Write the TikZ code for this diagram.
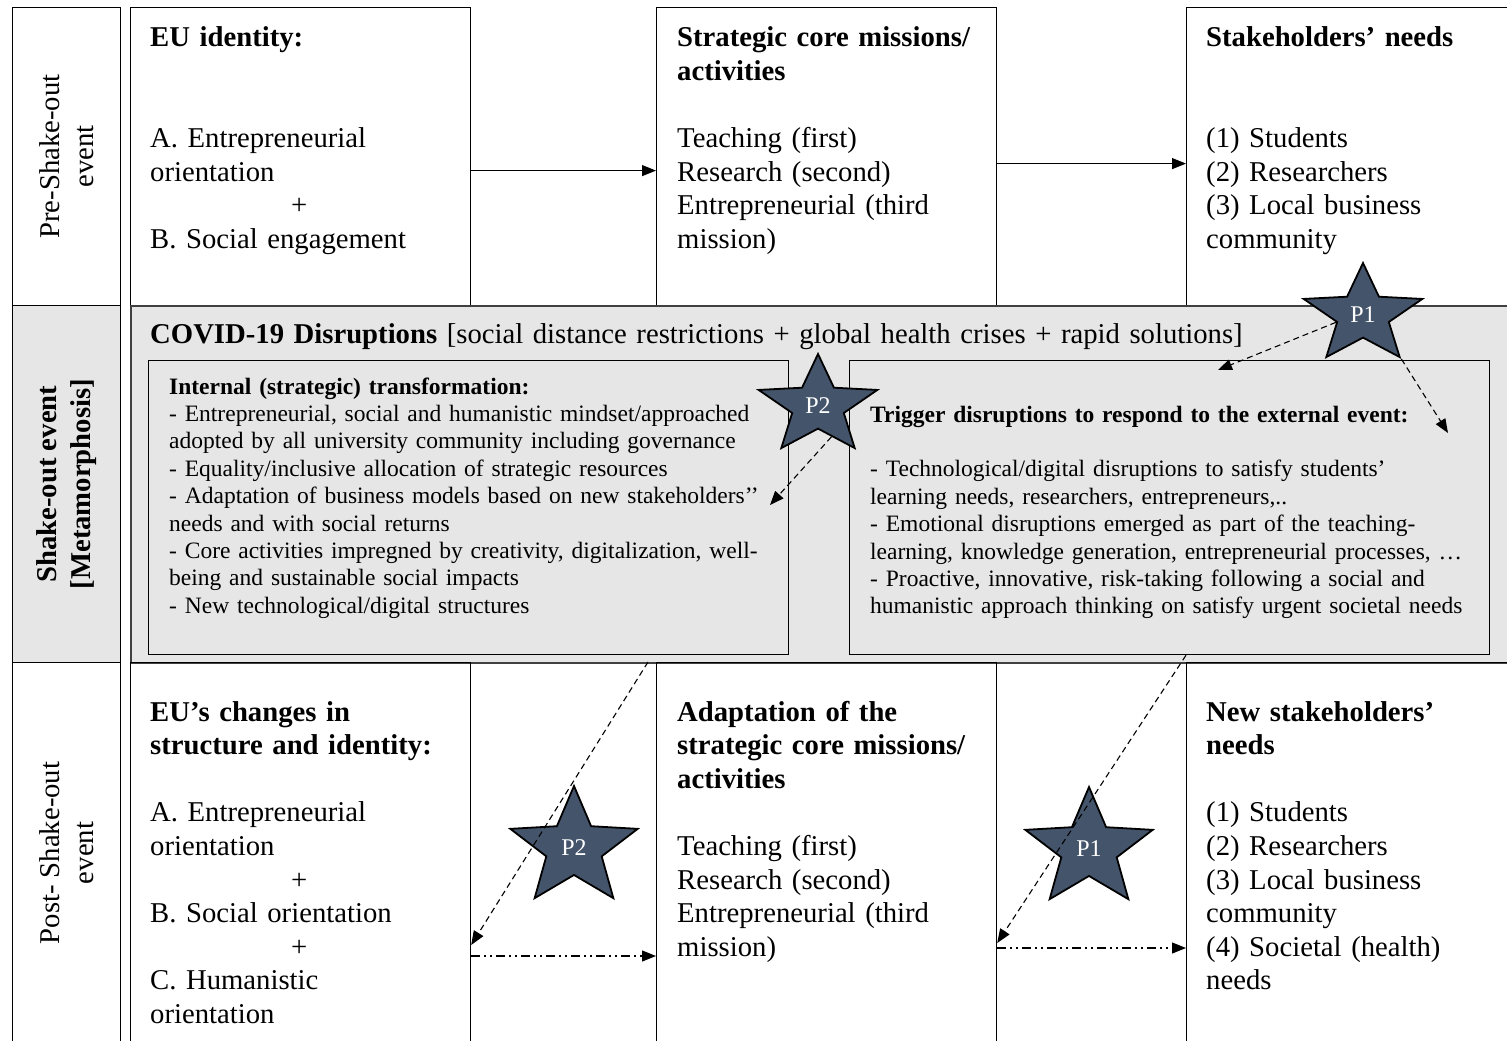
\documentclass[tikz,border=0pt]{standalone}
\usepackage{fontspec}
\setmainfont{Liberation Serif}
\usepackage{xcolor}
\usepackage{tikz}
\usetikzlibrary{arrows.meta,positioning,shapes.geometric}
\definecolor{bandgray}{HTML}{E7E6E6}
\definecolor{starblue}{HTML}{44546A}
\definecolor{rimgray}{HTML}{404040}
\newcommand\bodysize{\fontsize{28.7}{33.6}\selectfont}
\newcommand\smallsize{\fontsize{23.5}{27.4}\selectfont}

\begin{document}
\begin{tikzpicture}[
 x=1pt,y=-1pt,
 cell/.style={draw=black,line width=1.2pt,anchor=north west,inner sep=0pt},
 band/.style={draw=rimgray,line width=1.6pt,fill=bandgray,anchor=north west,inner sep=0pt},
 txt/.style={anchor=base west,align=left,text width=330pt,inner sep=0pt,font=\bodysize},
 smalltxt/.style={anchor=base west,align=left,text width=620pt,inner sep=0pt,font=\smallsize},
 side/.style={rotate=90,align=center,inner sep=0pt,font=\bodysize},
 pstar/.style={star,star points=5,star point ratio=2.3,draw=black,line width=1.8pt,fill=starblue,inner sep=0pt,transform shape},
 plabel/.style={text=white,inner sep=0pt,font=\fontsize{24}{26}\selectfont},
 flow/.style={line width=1.1pt,-{Triangle[length=14pt,width=11pt]}},
 dashflow/.style={flow,dash pattern=on 6pt off 4pt},
 dotflow/.style={flow,dash pattern=on 9pt off 4pt on 2pt off 4pt on 2pt off 4pt}
]
\useasboundingbox (0,0) rectangle (1507,1041);
\fill[white] (0,0) rectangle (1507,1041);
\clip (0,0) rectangle (1507,1041);

\node[cell,minimum width=108pt,minimum height=298pt] (prebox) at (12,7) {};
\node[cell,fill=bandgray,minimum width=108pt,minimum height=357pt] (shakebox) at (12,305) {};
\node[cell,minimum width=108pt,minimum height=400pt] (postbox) at (12,662) {};
\node[side] (prelab) at (prebox) {Pre-Shake-out\\event};
\node[side,font=\bodysize\bfseries] (shakelab) at (shakebox) {Shake-out event\\{[}Metamorphosis{]}};
\node[side] (postlab) at ([yshift=-10pt]postbox.center |- 0,843) {Post- Shake-out\\event};

\node[cell,minimum width=340pt,minimum height=298pt] (preid) at (130,7) {};
\node[cell,minimum width=340pt,minimum height=298pt] (premis) at (656,7) {};
\node[cell,minimum width=360pt,minimum height=298pt] (preneed) at (1186,7) {};
\node[band,minimum width=1400pt,minimum height=357pt] (covid) at (130,305) {};
\node[cell,fill=bandgray,minimum width=640pt,minimum height=294pt] (internal) at (148,360) {};
\node[cell,fill=bandgray,minimum width=640pt,minimum height=294pt] (trigger) at (849,360) {};
\node[cell,minimum width=340pt,minimum height=400pt] (postid) at (130,662) {};
\node[cell,minimum width=340pt,minimum height=400pt] (postmis) at (656,662) {};
\node[cell,minimum width=360pt,minimum height=400pt] (postneed) at (1186,662) {};

\node[txt] (preidtext) at (150,47) {\textbf{EU identity:}\\[67.2pt]A. Entrepreneurial\\orientation\\\hspace*{141pt}+\\B. Social engagement};
\node[txt] (premistext) at (677,47) {\textbf{Strategic core missions/}\\\textbf{activities}\\[33.6pt]Teaching (first)\\Research (second)\\Entrepreneurial (third\\mission)};
\node[txt] (preneedtext) at (1206,47) {\textbf{Stakeholders’ needs}\\[67.2pt](1) Students\\(2) Researchers\\(3) Local business\\community};

\node[txt,text width=1340pt] (covidtext) at (150,343) {\textbf{COVID-19 Disruptions} [social distance restrictions + global health crises + rapid solutions]};
\node[smalltxt] (internaltext) at (169,394) {\textbf{Internal (strategic) transformation:}\\- Entrepreneurial, social and humanistic mindset/approached\\adopted by all university community including governance\\- Equality/inclusive allocation of strategic resources\\- Adaptation of business models based on new stakeholders’’\\needs and with social returns\\- Core activities impregned by creativity, digitalization, well-\\being and sustainable social impacts\\- New technological/digital structures};
\node[smalltxt] (triggertext) at (870,422) {\textbf{Trigger disruptions to respond to the external event:}\\[27.4pt]- Technological/digital disruptions to satisfy students’\\learning needs, researchers, entrepreneurs,..\\- Emotional disruptions emerged as part of the teaching-\\learning, knowledge generation, entrepreneurial processes, …\\- Proactive, innovative, risk-taking following a social and\\humanistic approach thinking on satisfy urgent societal needs};

\node[txt] (postidtext) at (150,721) {\textbf{EU’s changes in}\\\textbf{structure and identity:}\\[33.6pt]A. Entrepreneurial\\orientation\\\hspace*{141pt}+\\B. Social orientation\\\hspace*{141pt}+\\C. Humanistic\\orientation};
\node[txt] (postmistext) at (677,721) {\textbf{Adaptation of the}\\\textbf{strategic core missions/}\\\textbf{activities}\\[33.6pt]Teaching (first)\\Research (second)\\Entrepreneurial (third\\mission)};
\node[txt] (postneedtext) at (1206,721) {\textbf{New stakeholders’}\\\textbf{needs}\\[33.6pt](1) Students\\(2) Researchers\\(3) Local business\\community\\(4) Societal (health)\\needs};

\node[pstar,minimum size=104pt,xscale=1.2] (p1) at (1363,315) {};
\node[plabel] at (p1) {P1};
\node[pstar,minimum size=104pt,xscale=1.2] (p2) at (818,406) {};
\node[plabel] at (p2) {P2};
\node[pstar,minimum size=124pt,xscale=1.08] (p2b) at (574,848) {};
\node[plabel] at (p2b) {P2};
\node[pstar,minimum size=124pt,xscale=1.08] (p1b) at (1089,849) {};
\node[plabel] at (p1b) {P1};

\coordinate (hitT) at (1218,370);
\coordinate (hitR) at (1448,433);
\coordinate (hitI) at (770,505);
\coordinate (gapA) at (648,662);

\draw[flow] ([yshift=-14pt]preid.east) -- ([yshift=-14pt]premis.west);
\draw[flow] ([yshift=-7pt]premis.east) -- ([yshift=-7pt]preneed.west);
\draw[dashflow] (p1.198) -- (hitT);
\draw[dashflow] (p1.outer point 4) -- (hitR);
\draw[dashflow] (p2.290) -- (hitI);
\draw[dashflow] (gapA) -- (postid.east |- 0,945);
\draw[dashflow] (trigger.south -| postneed.west) -- (postmis.east |- 0,943);
\draw[dotflow] (postid.east |- 0,956) -- (postmis.west |- 0,956);
\draw[dotflow] (postmis.east |- 0,948) -- (postneed.west |- 0,948);
\end{tikzpicture}
\end{document}
